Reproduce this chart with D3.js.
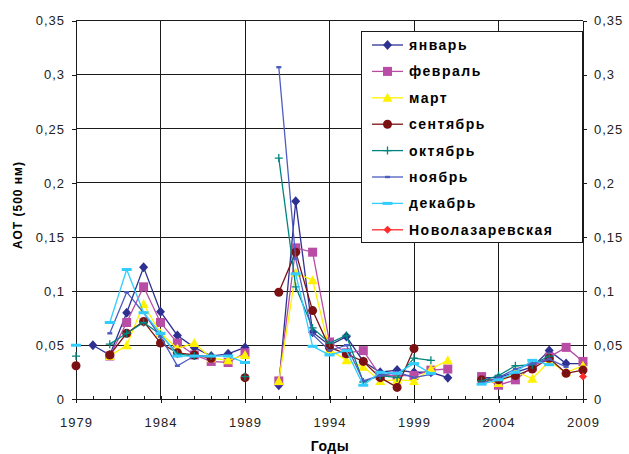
<!DOCTYPE html>
<html>
<head>
<meta charset="utf-8">
<script src="https://cdn.jsdelivr.net/npm/d3@7"></script>
<style>
  body { margin: 0; background: #fff; }
  svg text { font-family: "Liberation Sans", Arial, sans-serif; }
</style>
</head>
<body>
<div id="chart"></div>
<script>
// years on the x axis (null = no measurement)
var years = [1979, 1980, 1981, 1982, 1983, 1984, 1985, 1986, 1987, 1988,
             1989, 1990, 1991, 1992, 1993, 1994, 1995, 1996, 1997, 1998,
             1999, 2000, 2001, 2002, 2003, 2004, 2005, 2006, 2007, 2008, 2009];

var seriesNames = ['январь', 'февраль', 'март', 'сентябрь', 'октябрь', 'ноябрь', 'декабрь', 'Новолазаревская'];

var january = [null, 0.05, 0.041, 0.08, 0.122, 0.081, 0.059, 0.048, 0.04, 0.042,
               0.048, null, 0.013, 0.183, 0.062, 0.05, 0.058, 0.035, 0.025, 0.027,
               0.025, 0.025, 0.02, null, 0.02, 0.02, 0.025, 0.03, 0.045, 0.033, 0.033];
var february = [null, null, 0.04, 0.071, 0.104, 0.071, 0.052, 0.041, 0.035, 0.034,
                0.043, null, 0.017, 0.14, 0.136, 0.053, 0.043, 0.045, 0.022, 0.022,
                0.022, 0.027, 0.028, null, 0.021, 0.013, 0.018, 0.03, 0.039, 0.048, 0.035];
var march = [null, null, 0.04, 0.05, 0.088, 0.061, 0.047, 0.052, 0.038, 0.036,
             0.041, null, 0.017, 0.117, 0.11, 0.046, 0.036, 0.03, 0.017, 0.018,
             0.017, 0.028, 0.036, null, 0.018, 0.015, 0.026, 0.019, 0.035, 0.025, 0.031];
var september = [0.031, null, 0.041, 0.061, 0.072, 0.052, 0.043, 0.041, 0.038, null,
                 0.02, null, 0.099, 0.136, 0.082, 0.048, 0.042, 0.035, 0.02, 0.011,
                 0.047, null, null, null, 0.018, 0.018, 0.022, 0.028, 0.038, 0.024, 0.027];
var october = [0.04, null, 0.051, 0.061, 0.071, 0.06, 0.042, 0.04, 0.04, null,
               0.021, null, 0.223, 0.104, 0.066, 0.052, 0.059, 0.016, 0.022, 0.02,
               0.038, 0.036, null, null, 0.017, 0.022, 0.031, 0.032, 0.04, null, null];
var november = [null, null, 0.061, 0.099, 0.08, 0.058, 0.031, 0.04, 0.04, null,
                null, null, 0.307, 0.13, 0.06, 0.045, 0.05, 0.017, 0.022, 0.025,
                0.02, 0.023, null, null, 0.015, 0.02, 0.028, 0.033, 0.037, 0.03, null];
var december = [0.05, null, 0.071, 0.12, 0.08, 0.061, 0.04, 0.04, 0.04, 0.04,
                0.034, null, null, 0.116, 0.049, 0.041, 0.045, 0.013, 0.025, 0.024,
                0.033, 0.024, null, null, 0.014, 0.018, 0.025, 0.036, 0.032, null, null];
var novolazarevskaya = [null, null, null, null, null, null, null, null, null, null,
                        null, null, null, null, null, null, null, null, null, null,
                        null, null, null, null, null, null, null, null, null, null, 0.021];

var yTicks = [0, 0.05, 0.1, 0.15, 0.2, 0.25, 0.3, 0.35];
var xMajorTicks = [1979, 1984, 1989, 1994, 1999, 2004, 2009];

!(function () {

  var width = 629, height = 454;
  var plot = { left: 76, right: 583, top: 20.7, bottom: 399.3 };

  var styles = [
    { color: '#2E3192', marker: 'diamond' },
    { color: '#B94DA6', marker: 'square' },
    { color: '#FFF200', marker: 'triangle' },
    { color: '#7B1113', marker: 'circle' },
    { color: '#00857F', marker: 'plus' },
    { color: '#4D5CC0', marker: 'dash' },
    { color: '#33CCFF', marker: 'bar' },
    { color: '#FF2A2A', marker: 'smalldiamond' }
  ];

  var series = [january, february, march, september, october, november, december, novolazarevskaya]
    .map(function (vals, i) {
      return {
        name: seriesNames[i],
        color: styles[i].color,
        marker: styles[i].marker,
        points: vals.map(function (v, j) { return { year: years[j], v: v }; })
      };
    });

  var x = d3.scaleLinear().domain([1979, 2009]).range([plot.left, plot.right]);
  var y = d3.scaleLinear().domain([0, 0.35]).range([plot.bottom, plot.top]);

  var fmt = function (v) {
    return v === 0 ? '0' : d3.format('.2~f')(v).replace('.', ',');
  };

  var svg = d3.select('#chart').append('svg')
    .attr('width', width)
    .attr('height', height);

  // grid
  var grid = svg.append('g')
    .attr('stroke', '#1a1a1a')
    .attr('stroke-width', 1)
    .attr('shape-rendering', 'crispEdges');

  grid.selectAll('.hgrid')
    .data(yTicks.filter(function (d) { return d > 0; }))
    .enter().append('line')
    .attr('x1', plot.left).attr('x2', plot.right)
    .attr('y1', function (d) { return y(d); })
    .attr('y2', function (d) { return y(d); });

  grid.selectAll('.vgrid')
    .data(xMajorTicks.slice(1, -1))
    .enter().append('line')
    .attr('y1', plot.top).attr('y2', plot.bottom)
    .attr('x1', function (d) { return x(d); })
    .attr('x2', function (d) { return x(d); });

  // axes
  var styleAxis = function (g) {
    g.selectAll('path, line').attr('stroke', '#1a1a1a').attr('shape-rendering', 'crispEdges');
    g.selectAll('text')
      .attr('fill', '#222')
      .style('font-size', '13px')
      .style('letter-spacing', '1px');
  };

  svg.append('g')
    .attr('transform', 'translate(' + plot.left + ',0)')
    .call(d3.axisLeft(y).tickValues(yTicks).tickFormat(fmt).tickSize(4).tickSizeOuter(0).tickPadding(7))
    .call(styleAxis);

  svg.append('g')
    .attr('transform', 'translate(' + plot.right + ',0)')
    .call(d3.axisRight(y).tickValues(yTicks).tickFormat(fmt).tickSize(4).tickSizeOuter(0).tickPadding(7))
    .call(styleAxis);

  svg.append('g')
    .attr('transform', 'translate(0,' + plot.bottom + ')')
    .call(d3.axisBottom(x).tickValues(years).tickFormat('').tickSize(-3).tickSizeOuter(0))
    .call(styleAxis);

  svg.append('g')
    .attr('transform', 'translate(0,' + plot.bottom + ')')
    .call(d3.axisBottom(x).tickValues(xMajorTicks).tickFormat(d3.format('d')).tickSize(4).tickSizeOuter(0).tickPadding(14))
    .call(styleAxis)
    .call(function (g) { g.select('.domain').remove(); });

  // axis titles
  svg.append('text')
    .attr('transform', 'translate(22,205) rotate(-90)')
    .attr('text-anchor', 'middle')
    .style('font-size', '12px')
    .style('font-weight', 'bold')
    .style('letter-spacing', '1px')
    .text('АОТ (500 нм)');

  svg.append('text')
    .attr('x', 330).attr('y', 451)
    .attr('text-anchor', 'middle')
    .style('font-size', '14px')
    .style('font-weight', 'bold')
    .style('letter-spacing', '0.5px')
    .text('Годы');

  // markers
  var drawMarker = function (sel, d) {
    var c = d.color;
    switch (d.marker) {
      case 'diamond':
        sel.append('path').attr('d', 'M0,-5L4.5,0L0,5L-4.5,0Z').attr('fill', c);
        break;
      case 'smalldiamond':
        sel.append('path').attr('d', 'M0,-4L4,0L0,4L-4,0Z').attr('fill', c);
        break;
      case 'square':
        sel.append('rect').attr('x', -4.5).attr('y', -4.5).attr('width', 9).attr('height', 9).attr('fill', c);
        break;
      case 'triangle':
        sel.append('path').attr('d', 'M0,-5L5,4L-5,4Z').attr('fill', c);
        break;
      case 'circle':
        sel.append('circle').attr('r', 4.5).attr('fill', c);
        break;
      case 'plus':
        sel.append('path').attr('d', 'M-4,0H4M0,-4V4').attr('stroke', c).attr('stroke-width', 1.3);
        break;
      case 'dash':
        sel.append('rect').attr('x', -2.5).attr('y', -1.2).attr('width', 5).attr('height', 2.4).attr('fill', c);
        break;
      case 'bar':
        sel.append('rect').attr('x', -5).attr('y', -1.5).attr('width', 10).attr('height', 3).attr('fill', c);
        break;
    }
  };

  var line = d3.line()
    .defined(function (d) { return d.v !== null; })
    .x(function (d) { return x(d.year); })
    .y(function (d) { return y(d.v); });

  var groups = svg.append('g').selectAll('.series')
    .data(series)
    .enter().append('g')
    .attr('class', 'series');

  groups.append('path')
    .attr('fill', 'none')
    .attr('stroke', function (d) { return d.color; })
    .attr('stroke-width', 1.3)
    .attr('d', function (d) { return line(d.points); });

  groups.each(function (s) {
    d3.select(this).selectAll('.mark')
      .data(s.points.filter(function (p) { return p.v !== null; }))
      .enter().append('g')
      .attr('class', 'mark')
      .attr('transform', function (p) { return 'translate(' + x(p.year) + ',' + y(p.v) + ')'; })
      .each(function () { drawMarker(d3.select(this), s); });
  });

  // legend
  var legend = svg.append('g');

  legend.append('rect')
    .attr('x', 361.5).attr('y', 31.5)
    .attr('width', 221).attr('height', 211)
    .attr('fill', '#fff')
    .attr('stroke', '#1a1a1a');

  var items = legend.selectAll('.item')
    .data(series)
    .enter().append('g')
    .attr('class', 'item')
    .attr('transform', function (d, i) { return 'translate(0,' + (45 + i * 26.4) + ')'; });

  items.append('line')
    .attr('x1', 372).attr('x2', 403)
    .attr('stroke', function (d) { return d.color; })
    .attr('stroke-width', 1.3);

  items.append('g')
    .attr('transform', 'translate(387.5,0)')
    .each(function (d) { drawMarker(d3.select(this), d); });

  items.append('text')
    .attr('x', 409)
    .attr('dy', '0.36em')
    .style('font-size', '14px')
    .style('font-weight', 'bold')
    .style('letter-spacing', '1.5px')
    .text(function (d) { return d.name; });

})();
</script>
</body>
</html>
